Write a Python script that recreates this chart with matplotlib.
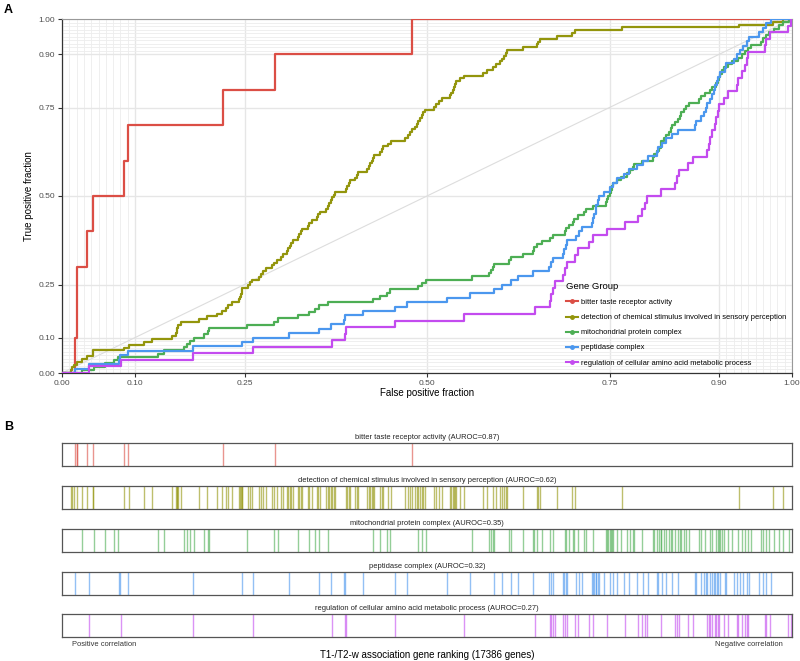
import numpy as np
import matplotlib
matplotlib.use("Agg")
import matplotlib.pyplot as plt
from matplotlib.lines import Line2D

plt.rcParams['font.family'] = ['Liberation Sans', 'DejaVu Sans']

# ---------------- data: gene rank positions (fraction of ranking) ----------------
groups = [
    "bitter taste receptor activity",
    "detection of chemical stimulus involved in sensory perception",
    "mitochondrial protein complex",
    "peptidase complex",
    "regulation of cellular amino acid metabolic process",
]
aurocs = [0.87, 0.62, 0.35, 0.32, 0.27]
colors = ["#DB4E45", "#93950C", "#4DAE54", "#4B97EE", "#C34BEF"]

bitter = [0.018, 0.020, 0.021, 0.034, 0.043, 0.085, 0.091, 0.221, 0.292, 0.480]

chemical = [0.012, 0.014, 0.017, 0.020, 0.027, 0.034, 0.042, 0.043, 0.085, 0.092,
            0.112, 0.123, 0.151, 0.156, 0.157, 0.158, 0.159, 0.163, 0.188, 0.199,
            0.212, 0.219, 0.224, 0.228, 0.233, 0.242, 0.244, 0.245, 0.246, 0.247,
            0.255, 0.258, 0.260, 0.270, 0.273, 0.276, 0.279, 0.288, 0.291, 0.294,
            0.300, 0.303, 0.308, 0.310, 0.312, 0.314, 0.316, 0.323, 0.325, 0.327,
            0.329, 0.337, 0.339, 0.342, 0.349, 0.351, 0.353, 0.362, 0.364, 0.366,
            0.368, 0.370, 0.372, 0.374, 0.389, 0.391, 0.393, 0.395, 0.401, 0.404,
            0.406, 0.418, 0.420, 0.422, 0.424, 0.426, 0.428, 0.436, 0.438, 0.440,
            0.447, 0.450, 0.470, 0.474, 0.477, 0.479, 0.484, 0.486, 0.488, 0.490,
            0.493, 0.495, 0.497, 0.510, 0.513, 0.516, 0.520, 0.531, 0.533, 0.535,
            0.537, 0.538, 0.540, 0.545, 0.551, 0.577, 0.582, 0.590, 0.595, 0.600,
            0.603, 0.606, 0.608, 0.610, 0.632, 0.650, 0.652, 0.655, 0.678, 0.699,
            0.703, 0.767, 0.927, 0.974, 0.988]

mito = [0.027, 0.044, 0.059, 0.071, 0.077, 0.132, 0.140, 0.167, 0.171, 0.175,
        0.181, 0.195, 0.200, 0.201, 0.253, 0.290, 0.296, 0.323, 0.338, 0.347,
        0.352, 0.364, 0.426, 0.436, 0.445, 0.449, 0.488, 0.493, 0.499, 0.562,
        0.585, 0.588, 0.590, 0.592, 0.613, 0.615, 0.631, 0.645, 0.647, 0.651,
        0.658, 0.668, 0.672, 0.689, 0.691, 0.695, 0.700, 0.702, 0.707, 0.715,
        0.718, 0.728, 0.745, 0.747, 0.748, 0.751, 0.752, 0.754, 0.755, 0.760,
        0.766, 0.774, 0.778, 0.782, 0.784, 0.795, 0.809, 0.811, 0.815, 0.818,
        0.820, 0.821, 0.824, 0.827, 0.831, 0.834, 0.836, 0.840, 0.844, 0.846,
        0.848, 0.852, 0.855, 0.859, 0.872, 0.875, 0.881, 0.888, 0.891, 0.896,
        0.898, 0.900, 0.901, 0.904, 0.907, 0.913, 0.918, 0.926, 0.932, 0.936,
        0.940, 0.944, 0.958, 0.960, 0.964, 0.968, 0.975, 0.982, 0.988, 0.996]

peptidase = [0.018, 0.037, 0.078, 0.079, 0.090, 0.179, 0.247, 0.262, 0.311, 0.352,
             0.368, 0.386, 0.388, 0.412, 0.456, 0.473, 0.528, 0.559, 0.592, 0.603,
             0.615, 0.625, 0.645, 0.667, 0.670, 0.672, 0.686, 0.688, 0.690, 0.692,
             0.704, 0.708, 0.712, 0.726, 0.728, 0.729, 0.731, 0.732, 0.734, 0.735,
             0.742, 0.750, 0.755, 0.760, 0.770, 0.777, 0.787, 0.796, 0.803, 0.815,
             0.817, 0.822, 0.827, 0.835, 0.844, 0.867, 0.869, 0.876, 0.880, 0.882,
             0.883, 0.888, 0.891, 0.893, 0.895, 0.897, 0.899, 0.901, 0.908, 0.910,
             0.920, 0.924, 0.929, 0.933, 0.938, 0.941, 0.955, 0.960, 0.965, 0.971]

aminoacid = [0.037, 0.081, 0.179, 0.261, 0.370, 0.387, 0.389, 0.456, 0.550, 0.648,
             0.668, 0.670, 0.672, 0.675, 0.686, 0.689, 0.692, 0.703, 0.707, 0.722,
             0.727, 0.746, 0.771, 0.789, 0.795, 0.798, 0.801, 0.821, 0.840, 0.843,
             0.845, 0.857, 0.864, 0.884, 0.886, 0.888, 0.890, 0.894, 0.896, 0.898,
             0.900, 0.907, 0.913, 0.925, 0.926, 0.931, 0.936, 0.938, 0.940, 0.963,
             0.965, 0.970, 0.994, 0.998]

positions = [bitter, chemical, mito, peptidase, aminoacid]

major_ticks = [0.0, 0.10, 0.25, 0.50, 0.75, 0.90, 1.00]
tick_labels = ["0.00", "0.10", "0.25", "0.50", "0.75", "0.90", "1.00"]
minor_ticks = [0.01, 0.02, 0.03, 0.04, 0.05, 0.06, 0.07, 0.08, 0.09,
               0.91, 0.92, 0.93, 0.94, 0.95, 0.96, 0.97, 0.98, 0.99]

# ---------------- figure ----------------
W, H = 800, 661
fig = plt.figure(figsize=(W / 100, H / 100), dpi=100)

def fx(px):
    return px / W

def fy(py):
    return 1 - py / H

# Panel A
axA = fig.add_axes([fx(62), fy(373), fx(792) - fx(62), fy(19) - fy(373)])
axA.set_xlim(0, 1)
axA.set_ylim(0, 1)
axA.set_xticks(major_ticks)
axA.set_xticklabels(tick_labels)
axA.set_yticks(major_ticks)
axA.set_yticklabels(tick_labels)
axA.set_xticks(minor_ticks, minor=True)
axA.set_yticks(minor_ticks, minor=True)
axA.grid(True, which='major', color='#E6E6E6', lw=1.0, zorder=0)
axA.grid(True, which='minor', color='#EDEDED', lw=0.6, zorder=0)
axA.tick_params(which='minor', length=0)
axA.tick_params(which='major', length=3, width=0.8, colors='#333333', labelsize=6,
                labelcolor='#4D4D4D', pad=2)
axA.set_axisbelow(True)
for s in ['top', 'right']:
    axA.spines[s].set_color('#999999')
    axA.spines[s].set_linewidth(0.8)
for s in ['left', 'bottom']:
    axA.spines[s].set_color('#333333')
    axA.spines[s].set_linewidth(0.9)

axA.plot([0, 1], [0, 1], color='#DDDDDD', lw=0.8, zorder=1)

for name, pos, col in zip(groups, positions, colors):
    p = np.sort(np.asarray(pos))
    n = len(p)
    xs = np.concatenate([[0.0], p, [1.0]])
    ys = np.concatenate([[0.0], np.arange(1, n + 1) / n, [1.0]])
    axA.step(xs, ys, where='post', color=col, lw=1.6, zorder=3)

axA.set_xlabel("False positive fraction", fontsize=7, labelpad=1)
axA.set_ylabel("True positive fraction", fontsize=7, labelpad=3)

handles = [Line2D([0], [0], color=c, lw=1.5, marker='o', markersize=2.5) for c in colors]
leg = fig.legend(handles, groups, loc='upper left',
                 bbox_to_anchor=(fx(566), fy(282)), frameon=False,
                 fontsize=5.4, title="Gene Group", title_fontsize=6.8,
                 handlelength=1.6, handletextpad=0.4, labelspacing=1.05,
                 borderpad=0, borderaxespad=0)
leg._legend_box.align = "left"

fig.text(fx(4), fy(10), "A", fontsize=9, fontweight='bold', va='center', ha='left')
fig.text(fx(4), fy(427), "B", fontsize=9, fontweight='bold', va='center', ha='left')

# Panel B
tops = [443, 486, 529, 572, 614]
box_h = 23
for i, (name, pos, col, au) in enumerate(zip(groups, positions, colors, aurocs)):
    ax = fig.add_axes([fx(62), fy(tops[i] + box_h), fx(792) - fx(62), box_h / H])
    ax.set_xlim(0, 1)
    ax.set_ylim(0, 1)
    ax.set_xticks([])
    ax.set_yticks([])
    for s in ax.spines.values():
        s.set_color('#555555')
        s.set_linewidth(0.9)
    for v in pos:
        ax.axvline(v, color=col, lw=1.0, alpha=0.6)
    ax.set_title(f"{name} (AUROC={au:.2f})", fontsize=5.4, pad=3, color='#222222')

fig.text(fx(72), fy(645), "Positive correlation", fontsize=5.4, color='#333333',
         ha='left', va='center')
fig.text(fx(783), fy(645), "Negative correlation", fontsize=5.4, color='#333333',
         ha='right', va='center')
fig.text(fx(427), fy(655), "T1-/T2-w association gene ranking (17386 genes)",
         fontsize=7, ha='center', va='center')

fig.savefig("out.png", dpi=100)
